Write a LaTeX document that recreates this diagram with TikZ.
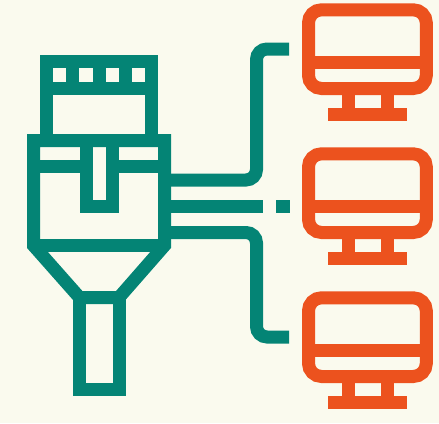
\documentclass[tikz,border=0pt]{standalone}
\usepackage{xcolor}
\usetikzlibrary{positioning}
\definecolor{paper}{HTML}{FAFAEE}
\definecolor{plugteal}{HTML}{048475}
\definecolor{screenred}{HTML}{EC521E}
\tikzset{
  plugline/.style={draw=plugteal,line width=13pt},
  screenline/.style={draw=screenred,line width=13pt},
  plugbox/.style={rectangle,plugline,inner sep=0pt,outer sep=0pt},
  plughole/.style={rectangle,fill=paper,inner sep=0pt,outer sep=0pt,minimum size=13pt},
  screenbox/.style={rectangle,rounded corners=13pt,screenline,inner sep=0pt,outer sep=0pt,
    minimum width=117.8pt,minimum height=78.7pt},
  screenbase/.style={rectangle,fill=screenred,inner sep=0pt,outer sep=0pt,
    minimum width=79pt,minimum height=13pt},
  cable/.style={plugline,rounded corners=10.5pt}
}

\begin{document}
\begin{tikzpicture}[x=1pt,y=-1pt]
\fill[paper] (0,0) rectangle (439,423);
% plug head
\node[plugbox,minimum width=105pt,minimum height=78.5pt] (head) at (99,100.75) {};
\draw[plugline] (46.5,88.5) -- (151.5,88.5);
\foreach \x in {72.8,99.2,125.2} \draw[plugline] (\x,61.5) -- (\x,88.5);
\foreach \x/\n in {59.8/a,86/b,112.2/c,138.4/d} \node[plughole] (hole\n) at (\x,75.5) {};
% plug body and funnel
\coordinate (bodytl) at (33.5,140.5);
\coordinate (bodytr) at (164.5,140.5);
\coordinate (bodybl) at (33.5,245.5);
\coordinate (bodybr) at (164.5,245.5);
\node[plugbox,minimum width=39.5pt,minimum height=92pt] (neck) at (99.25,343.5) {};
\draw[plugline] (bodytl) -- (bodytr) -- (bodybr) -- (neck.north east) -- (neck.north west) -- (bodybl) -- cycle;
\draw[plugline] (bodybl) -- (bodybr);
\draw[plugline] (33.5,166.7) -- (86,166.7);
\draw[plugline] (112,166.7) -- (164.5,166.7);
\draw[plugline] (86,140.5) -- (86,206) -- (112,206) -- (112,140.5);
% monitors
\foreach \i/\dy in {a/0,b/144,c/288}{
  \node[screenbox] (screen\i) at (367.4,49.15+\dy) {};
  \node[screenbase] (base\i) at (367.5,114.5+\dy) {};
  \draw[screenline] (308.5,62.2+\dy) -- (426.3,62.2+\dy);
  \draw[screenline] (348.2,88.5+\dy) -- (348.2,114.5+\dy);
  \draw[screenline] (387.2,88.5+\dy) -- (387.2,114.5+\dy);
}
% cables
\coordinate (enda) at (289,49);
\coordinate (endc) at (289,337);
\coordinate (endb) at (262.7,206);
\draw[cable] (164.5,180) -- (256.5,180) -- (256.5,49) -- (enda);
\draw[plugline] (164.5,206) -- (endb);
\draw[cable] (164.5,232.5) -- (256.5,232.5) -- (256.5,337) -- (endc);
\node[plughole,fill=plugteal,minimum width=14pt] (dot) at (283,206) {};
\end{tikzpicture}
\end{document}
